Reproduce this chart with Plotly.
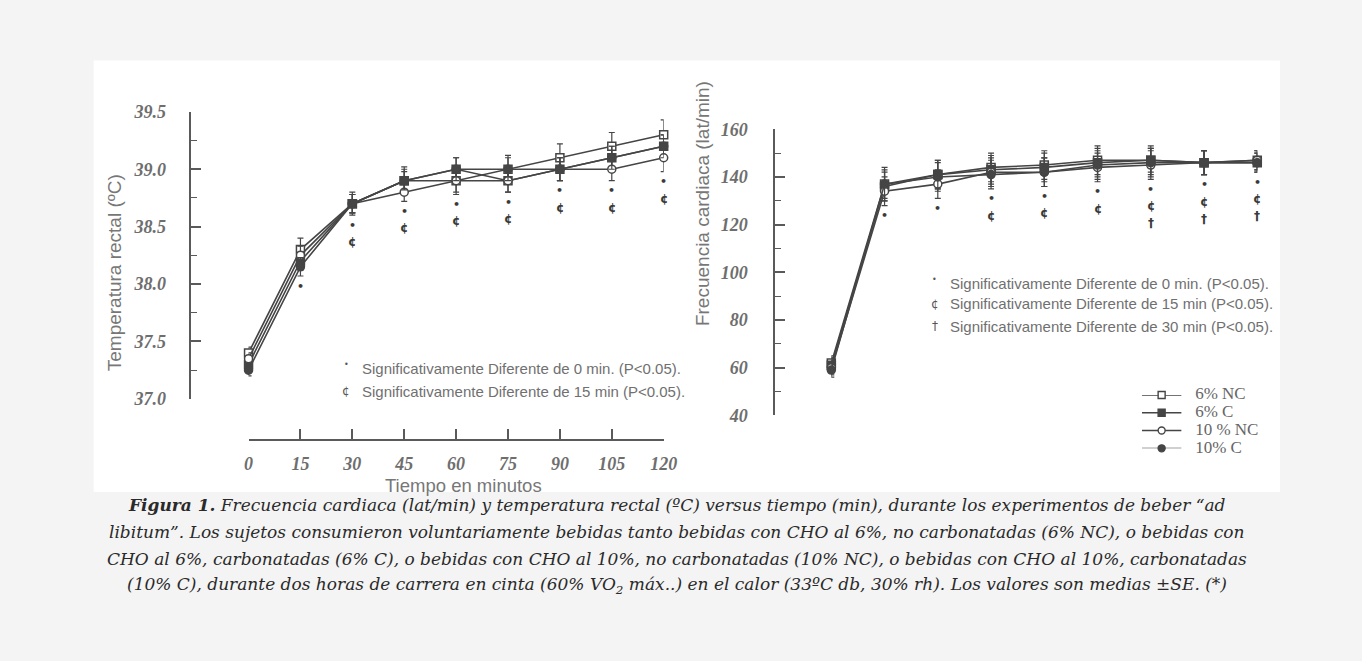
import plotly.graph_objects as go

W, H = 1362, 661

# ---------------- data ----------------
times = [0, 15, 30, 45, 60, 75, 90, 105, 120]
time_labels = ["0", "15", "30", "45", "60", "75", "90", "105", "120"]
series_names = ["6% NC", "6% C", "10 % NC", "10% C"]

temp_6nc = [37.40, 38.30, 38.70, 38.90, 38.90, 39.00, 39.10, 39.20, 39.30]
temp_6c = [37.30, 38.20, 38.70, 38.90, 39.00, 38.90, 39.00, 39.10, 39.20]
temp_10nc = [37.35, 38.25, 38.70, 38.80, 38.90, 38.90, 39.00, 39.00, 39.10]
temp_10c = [37.25, 38.15, 38.70, 38.90, 39.00, 39.00, 39.00, 39.10, 39.20]
temp_se_6nc = [0.05, 0.10, 0.10, 0.12, 0.12, 0.12, 0.12, 0.12, 0.13]
temp_se_6c = [0.05, 0.08, 0.08, 0.10, 0.10, 0.10, 0.10, 0.10, 0.10]
temp_se_10nc = [0.05, 0.08, 0.08, 0.08, 0.10, 0.10, 0.10, 0.10, 0.12]
temp_se_10c = [0.05, 0.08, 0.08, 0.08, 0.10, 0.10, 0.10, 0.10, 0.10]

hr_6nc = [62, 137, 141, 144, 145, 147, 147, 146, 147]
hr_6c = [61, 136, 141, 143, 144, 146, 147, 146, 146]
hr_10nc = [60, 134, 137, 142, 142, 144, 145, 146, 147]
hr_10c = [59, 137, 140, 141, 142, 145, 146, 146, 146]
hr_se_6nc = [3, 7, 6, 6, 6, 6, 6, 5, 4]
hr_se_6c = [3, 6, 6, 6, 6, 6, 5, 5, 4]
hr_se_10nc = [3, 6, 6, 6, 6, 6, 6, 5, 4]
hr_se_10c = [3, 6, 6, 6, 6, 6, 6, 5, 4]

temp_sig0 = [15, 30, 45, 60, 75, 90, 105, 120]
temp_sig15 = [30, 45, 60, 75, 90, 105, 120]
hr_sig0 = [15, 30, 45, 60, 75, 90, 105, 120]
hr_sig15 = [45, 60, 75, 90, 105, 120]
hr_sig30 = [90, 105, 120]

temp_ticks = [37.0, 37.5, 38.0, 38.5, 39.0, 39.5]
hr_ticks = [40, 60, 80, 100, 120, 140, 160]

key_left = ["Significativamente Diferente de 0 min. (P<0.05).",
            "Significativamente Diferente de 15 min (P<0.05)."]
key_right = ["Significativamente Diferente de 0 min. (P<0.05).",
             "Significativamente Diferente de 15 min (P<0.05).",
             "Significativamente Diferente de 30 min (P<0.05)."]

caption_lines = [
    "<b>Figura 1.</b> Frecuencia cardiaca (lat/min) y temperatura rectal (ºC) versus tiempo (min), durante los experimentos de beber “ad",
    "libitum”. Los sujetos consumieron voluntariamente bebidas tanto bebidas con CHO al 6%, no carbonatadas (6% NC), o bebidas con",
    "CHO al 6%, carbonatadas (6% C), o bebidas con CHO al 10%, no carbonatadas (10% NC), o bebidas con CHO al 10%, carbonatadas",
    "(10% C), durante dos horas de carrera en cinta (60% VO<sub>2</sub> máx..) en el calor (33ºC db, 30% rh). Los valores son medias ±SE. (*)",
]

# ---------------- helpers ----------------
def px(x):
    return x / W

def py(y):
    return 1 - y / H

INK = "#454545"
AX = "#5a5a5a"
TXT = "#707070"

styles = [
    dict(symbol="square", color="white"),
    dict(symbol="square", color=INK),
    dict(symbol="circle", color="white"),
    dict(symbol="circle", color=INK),
]

temp_series = [temp_6nc, temp_6c, temp_10nc, temp_10c]
temp_ses = [temp_se_6nc, temp_se_6c, temp_se_10nc, temp_se_10c]
hr_series = [hr_6nc, hr_6c, hr_10nc, hr_10c]
hr_ses = [hr_se_6nc, hr_se_6c, hr_se_10nc, hr_se_10c]

fig = go.Figure()

for name, st, vals, se in zip(series_names, styles, temp_series, temp_ses):
    fig.add_trace(go.Scatter(
        x=times, y=vals, xaxis="x", yaxis="y", mode="lines+markers",
        name=name, showlegend=False, cliponaxis=False,
        line=dict(color=INK, width=1.6),
        marker=dict(symbol=st["symbol"], color=st["color"], size=8,
                    line=dict(color=INK, width=1.5)),
        error_y=dict(type="data", array=se, color=INK, thickness=1.2, width=3),
    ))

for name, st, vals, se in zip(series_names, styles, hr_series, hr_ses):
    fig.add_trace(go.Scatter(
        x=times, y=vals, xaxis="x2", yaxis="y2", mode="lines+markers",
        name=name, showlegend=False, cliponaxis=False,
        line=dict(color=INK, width=1.6),
        marker=dict(symbol=st["symbol"], color=st["color"], size=8,
                    line=dict(color=INK, width=1.5)),
        error_y=dict(type="data", array=se, color=INK, thickness=1.2, width=3),
    ))

# series legend drawn on its own small hidden axes (row index = position in list)
n = len(series_names)
for k, (name, st) in enumerate(zip(series_names, styles)):
    row = n - 1 - k
    fig.add_trace(go.Scatter(
        x=[0, 0.5, 1], y=[row, row, row], xaxis="x3", yaxis="y3",
        mode="lines+markers", showlegend=False, cliponaxis=False, hoverinfo="skip",
        line=dict(color=INK, width=1.4),
        marker=dict(symbol=st["symbol"], color=st["color"], size=7, opacity=[0, 1, 0],
                    line=dict(color=INK, width=1.4)),
    ))
    fig.add_trace(go.Scatter(
        x=[1.35], y=[row], xaxis="x3", yaxis="y3", mode="text", text=[name],
        textposition="middle right", showlegend=False, cliponaxis=False, hoverinfo="skip",
        textfont=dict(family="Liberation Serif", size=17, color="#666"),
    ))

tickfont = dict(family="Liberation Serif", size=18, color="#6e6e6e", style="italic", weight="bold")

fig.update_layout(
    width=W, height=H,
    margin=dict(l=0, r=0, t=0, b=0),
    paper_bgcolor="#f4f4f4",
    plot_bgcolor="rgba(0,0,0,0)",
    showlegend=False,
    xaxis=dict(
        domain=[px(247), px(668)], range=[0, 120], anchor="free", position=py(443),
        showline=True, linecolor=AX, linewidth=1.5, ticks="inside", ticklen=10,
        tickcolor=AX, tickwidth=1.5, tickvals=times, ticktext=time_labels,
        tickfont=tickfont, showgrid=False, zeroline=False, ticklabelstandoff=8,
    ),
    yaxis=dict(
        domain=[py(401), py(105)], range=[37, 39.5], anchor="free", position=px(188),
        showline=True, linecolor=AX, linewidth=1.5, ticks="inside", ticklen=10,
        tickcolor=AX, tickwidth=1.5, tickvals=temp_ticks, ticktext=[f"{v:.1f}" for v in temp_ticks],
        tickfont=tickfont, showgrid=False, zeroline=False, ticklabelstandoff=20,
        minor=dict(ticks="inside", ticklen=6, dtick=0.25, tickcolor=AX, tickwidth=1.2, showgrid=False),
    ),
    xaxis2=dict(
        domain=[px(838), px(1270)], range=[0, 120], anchor="y2", visible=False,
    ),
    yaxis2=dict(
        domain=[py(418), py(123)], range=[40, 160], anchor="free", position=px(780),
        showline=True, linecolor=AX, linewidth=1.5, ticks="inside", ticklen=10,
        tickcolor=AX, tickwidth=1.5, tickvals=hr_ticks,
        tickfont=tickfont, showgrid=False, zeroline=False, ticklabelstandoff=22,
        minor=dict(ticks="inside", ticklen=6, dtick=10, tickcolor=AX, tickwidth=1.2, showgrid=False),
    ),
    xaxis3=dict(domain=[px(1153), px(1233)], range=[0, 2], anchor="y3", visible=False, fixedrange=True),
    yaxis3=dict(domain=[py(452), py(397)], range=[0, n - 1], anchor="x3", visible=False, fixedrange=True),
    shapes=[dict(type="rect", xref="paper", yref="paper", x0=px(90), x1=px(1293),
                 y0=py(497), y1=py(52), fillcolor="white", line=dict(width=0), layer="below")],
)

ann = []

def mark_annots(sig_times, series, ses, xref, yref, symbol, shift, size):
    for t in sig_times:
        i = times.index(t)
        base = min(s[i] - e[i] for s, e in zip(series, ses))
        ann.append(dict(x=t, y=base, xref=xref, yref=yref, text=symbol, showarrow=False,
                        xanchor="center", yanchor="middle", yshift=shift,
                        font=dict(family="DejaVu Sans", size=size, color="#3a3a3a", weight="bold")))

mark_annots(temp_sig0, temp_series, temp_ses, "x", "y", "•", -10, 11)
mark_annots(temp_sig15, temp_series, temp_ses, "x", "y", "¢", -27, 12)
mark_annots(hr_sig0, hr_series, hr_ses, "x2", "y2", "•", -10, 11)
mark_annots(hr_sig15, hr_series, hr_ses, "x2", "y2", "¢", -27, 12)
mark_annots(hr_sig30, hr_series, hr_ses, "x2", "y2", "†", -44, 12)

keyfont = dict(family="Liberation Sans", size=15, color=TXT)

def key_block(syms, texts, ys, xs, xt):
    for s, t, y in zip(syms, texts, ys):
        dot = s == "•"
        ann.append(dict(x=px(xs), y=py(y - (4 if dot else 0)), xref="paper", yref="paper", text=s,
                        showarrow=False, xanchor="center", yanchor="middle",
                        font=dict(family="DejaVu Sans", size=8 if dot else 12, color="#555")))
        ann.append(dict(x=px(xt), y=py(y), xref="paper", yref="paper", text=t, showarrow=False,
                        xanchor="left", yanchor="middle", font=keyfont))

key_block(["•", "¢"], key_left, [370, 393], 346, 360)
key_block(["•", "¢", "†"], key_right, [282, 303, 326], 943, 956)

titlefont = dict(family="Liberation Sans", size=19, color="#777")
ann.append(dict(x=px(111), y=py(271), xref="paper", yref="paper", text="Temperatura rectal (ºC)",
                textangle=-90, showarrow=False, xanchor="center", yanchor="middle", font=titlefont))
ann.append(dict(x=px(708), y=py(200), xref="paper", yref="paper", text="Frecuencia cardiaca (lat/min)",
                textangle=-90, showarrow=False, xanchor="center", yanchor="middle", font=titlefont))
ann.append(dict(x=px(465), y=py(490), xref="paper", yref="paper", text="Tiempo en minutos",
                showarrow=False, xanchor="center", yanchor="middle",
                font=dict(family="Liberation Sans", size=18.5, color="#777")))

capfont = dict(family="DejaVu Serif", size=17, color="#2a2a2a", style="italic")
for line, y in zip(caption_lines, [510, 538, 566, 593]):
    ann.append(dict(x=0.5, y=py(y), xref="paper", yref="paper", text=line, showarrow=False,
                    xanchor="center", yanchor="middle", font=capfont))

fig.update_layout(annotations=ann)

post_js = """
document.documentElement.style.margin='0';
document.body.style.margin='0';
document.body.style.padding='0';
document.body.style.overflow='hidden';
"""
fig.write_html("out.html", post_script=post_js)
